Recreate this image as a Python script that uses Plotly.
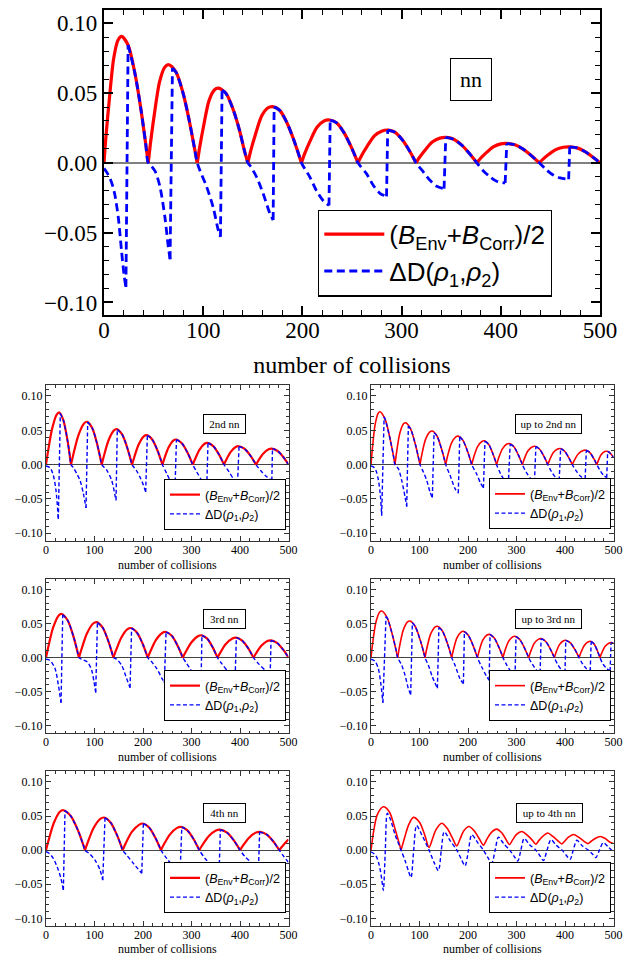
import plotly.graph_objects as go

G = None  # gap marker: separates spline segments (cusps / jumps)

# ---------------- top panel: nn ----------------
NN_RED = [(0,0),(2.1,0.020),(5.3,0.045),(9.8,0.075),(14.2,0.088),(17.8,0.0906),(24.5,0.084),(31.2,0.064),(37.1,0.039),(41.9,0.0145),(44.6,0), G,
          (44.6,0),(47.1,0.0155),(50.8,0.035),(56.0,0.058),(61.2,0.0685),(65.4,0.0703),(72.6,0.065),(79.7,0.050),(86.0,0.030),(91.1,0.011),(94,0), G,
          (94,0),(96.6,0.0118),(100.5,0.0268),(105.8,0.0444),(111.2,0.0522),(115.5,0.0535),(122.9,0.0498),(130.3,0.038),(136.7,0.023),(141.6,0.0086),(145,0), G,
          (145,0),(148,0.0089),(152.5,0.020),(158.8,0.0334),(165,0.0393),(170,0.0403),(177.3,0.0375),(184.5,0.0286),(190.9,0.0173),(196.1,0.0064),(199,0), G,
          (199,0),(202.4,0.0068),(207.6,0.0154),(214.7,0.0255),(221.8,0.030),(227.5,0.0307),(234.6,0.0286),(241.8,0.0218),(248,0.0132),(253.2,0.0049),(256,0), G,
          (256,0),(259.7,0.0052),(265.2,0.0118),(272.8,0.0195),(280.4,0.0229),(286.5,0.0235),(293.5,0.0219),(300.5,0.0167),(306.7,0.0101),(311.7,0.0038),(314.5,0), G,
          (314.5,0),(318.1,0.004),(323.6,0.0091),(331.2,0.0151),(338.7,0.0177),(344.8,0.0182),(352.5,0.0169),(360.3,0.0129),(367.1,0.0078),(372.7,0.0029),(375.8,0), G,
          (375.8,0),(379.4,0.0031),(384.9,0.007),(392.4,0.0115),(400,0.0136),(406,0.0139),(414.2,0.0129),(422.4,0.0099),(429.5,0.006),(435.4,0.0022),(438.7,0), G,
          (438.7,0),(442.3,0.0025),(447.8,0.0058),(455.4,0.0095),(463,0.0112),(469,0.0115),(476.8,0.0107),(484.5,0.0082),(491.3,0.0049),(496.9,0.0018),(500,0)]
NN_BLUE = [(0,-0.004),(3,-0.007),(6,-0.011),(9,-0.017),(11,-0.023),(14.4,-0.039),(17.8,-0.064),(20.5,-0.082),(22.1,-0.089), G,
           (22.1,-0.089),(24.3,0.0845), G,
           (24.3,0.0845),(31.2,0.064),(37.1,0.039),(41.9,0.0145),(44.6,0),(48,-0.0025),(51.5,-0.006),(56.4,-0.017),(61.4,-0.039),(64.8,-0.060),(66.6,-0.069), G,
           (66.6,-0.069),(69,0.068), G,
           (69,0.068),(72.6,0.065),(79.7,0.050),(86,0.030),(91.1,0.011),(94,0),(96.6,-0.0053),(103.4,-0.017),(110,-0.0317),(115.1,-0.048),(117.4,-0.053), G,
           (117.4,-0.053),(119,0.052), G,
           (119,0.052),(122.9,0.0498),(130.3,0.038),(136.7,0.023),(141.6,0.0086),(145,0),(147,-0.0017),(153.7,-0.010),(160.4,-0.022),(167.1,-0.036),(170.5,-0.041), G,
           (170.5,-0.041),(171.5,0.0401), G,
           (171.5,0.0401),(177.3,0.0375),(184.5,0.0286),(190.9,0.0173),(196.1,0.0064),(199,0),(207.4,-0.010),(214,-0.0197),(220.8,-0.027),(226.8,-0.0305), G,
           (226.8,-0.0305),(228,0.0306), G,
           (228,0.0306),(234.6,0.0286),(241.8,0.0218),(248,0.0132),(253.2,0.0049),(256,0),(264.6,-0.0077),(271.4,-0.0161),(278.1,-0.0218),(284.8,-0.024), G,
           (284.8,-0.024),(286,0.0235), G,
           (286,0.0235),(293.5,0.0219),(300.5,0.0167),(306.7,0.0101),(311.7,0.0038),(314.5,0),(321.9,-0.0065),(328.6,-0.0125),(335.4,-0.0168),(342.8,-0.0185), G,
           (342.8,-0.0185),(344.5,0.0182), G,
           (344.5,0.0182),(352.5,0.0169),(360.3,0.0129),(367.1,0.0078),(372.7,0.0029),(375.8,0),(382.5,-0.0058),(389.2,-0.010),(395.9,-0.0132),(404.4,-0.0144), G,
           (404.4,-0.0144),(406,0.0139), G,
           (406,0.0139),(414.2,0.0129),(422.4,0.0099),(429.5,0.006),(435.4,0.0022),(438.7,0),(446.5,-0.0053),(453.2,-0.0089),(459.9,-0.0108),(468.4,-0.0118), G,
           (468.4,-0.0118),(469.5,0.0115), G,
           (469.5,0.0115),(476.8,0.0107),(484.5,0.0082),(491.3,0.0049),(496.9,0.0018),(500,0)]

# ---------------- 2nd nn ----------------
NN2_RED = [(0,0),(4.1,0.019),(12.4,0.0517),(22,0.073),(27.5,0.076),(35.9,0.0646),(44.4,0.035),(49.2,0.0122),(51.6,0), G,
           (51.6,0),(56.6,0.0156),(66.6,0.0424),(78.3,0.060),(85,0.0624),(95.5,0.053),(105.9,0.0287),(111.9,0.010),(114.9,0), G,
           (114.9,0),(119.5,0.0129),(128.8,0.0352),(139.6,0.0496),(145.8,0.0517),(156.9,0.044),(167.9,0.0238),(174.2,0.0083),(177.4,0), G,
           (177.4,0),(182,0.0108),(191,0.0292),(201.6,0.0413),(207.7,0.043),(219,0.0366),(230.3,0.0198),(236.8,0.0069),(240,0), G,
           (240,0),(244.2,0.0092),(252.6,0.0249),(262.4,0.0351),(268,0.0366),(280.1,0.0311),(292.2,0.0168),(299.1,0.0059),(302.6,0), G,
           (302.6,0),(307.2,0.0079),(316.3,0.0216),(326.9,0.0304),(333,0.0317),(344.9,0.0269),(356.8,0.0146),(363.6,0.0051),(367,0), G,
           (367,0),(371.5,0.0067),(380.5,0.0182),(391,0.0257),(397,0.0268),(409.6,0.0228),(422.2,0.0123),(429.4,0.0043),(433,0), G,
           (433,0),(437.9,0.0059),(447.7,0.0159),(459.1,0.0225),(465.6,0.0234),(477.6,0.0199),(489.7,0.0108),(496.6,0.0037),(500,0)]
NN2_BLUE = [(0,-0.002),(8.3,-0.0044),(15.1,-0.0156),(20.6,-0.0376),(25.4,-0.079), G,
            (25.4,-0.079),(29.5,0.0745), G,
            (29.5,0.0745),(35.9,0.0646),(44.4,0.035),(49.2,0.0122),(51.6,0),(56.4,-0.0044),(63.3,-0.013),(70.2,-0.023),(77,-0.042),(82.5,-0.063), G,
            (82.5,-0.063),(86,0.0622), G,
            (86,0.0622),(95.5,0.053),(105.9,0.0287),(111.9,0.010),(114.9,0),(125.2,-0.008),(135.5,-0.023),(142.4,-0.045),(144.4,-0.052), G,
            (144.4,-0.052),(147,0.0512), G,
            (147,0.0512),(156.9,0.044),(167.9,0.0238),(174.2,0.0083),(177.4,0),(186,-0.008),(195,-0.02),(201,-0.03),(205.5,-0.040), G,
            (205.5,-0.040),(209,0.0428), G,
            (209,0.0428),(219,0.0366),(230.3,0.0198),(236.8,0.0069),(240,0),(249,-0.013),(259.4,-0.028),(266,-0.034), G,
            (266,-0.034),(269,0.0365), G,
            (269,0.0365),(280.1,0.0311),(292.2,0.0168),(299.1,0.0059),(302.6,0),(310.9,-0.0107),(321.2,-0.0229),(331.5,-0.032), G,
            (331.5,-0.032),(334,0.0317), G,
            (334,0.0317),(344.9,0.0269),(356.8,0.0146),(363.6,0.0051),(367,0),(377,-0.010),(386,-0.020),(395,-0.027), G,
            (395,-0.027),(398,0.0267), G,
            (398,0.0267),(409.6,0.0228),(422.2,0.0123),(429.4,0.0043),(433,0),(443,-0.009),(454,-0.017),(465.6,-0.023), G,
            (465.6,-0.023),(467,0.0233), G,
            (467,0.0233),(477.6,0.0199),(489.7,0.0108),(496.6,0.0037),(500,0)]

# ---------------- up to 2nd nn ----------------
UP2_RED = [(0,0),(2.8,0.023),(8.4,0.0578),(14.9,0.075),(18.6,0.077),(29.4,0.0655),(40.2,0.0347),(46.4,0.0123),(49.5,0), G,
           (49.5,0),(52.8,0.0183),(59.4,0.0458),(67.1,0.0595),(71.5,0.061),(81.8,0.0519),(92.2,0.0275),(98,0.0098),(101,0), G,
           (101,0),(104.8,0.0147),(112.5,0.0368),(121.4,0.0478),(126.5,0.049),(136.1,0.0417),(145.8,0.0221),(151.3,0.0078),(154,0), G,
           (154,0),(157.9,0.0125),(165.7,0.0311),(174.8,0.0405),(180,0.0415),(189.7,0.0353),(199.4,0.0187),(204.9,0.0066),(207.7,0), G,
           (207.7,0),(211.6,0.0104),(219.5,0.026),(228.7,0.0337),(234,0.0346),(242.8,0.0294),(251.5,0.0156),(256.5,0.0055),(259,0), G,
           (259,0),(263,0.0092),(270.9,0.023),(280.1,0.030),(285.4,0.0307),(294.7,0.0261),(304,0.0138),(309.3,0.0049),(312,0), G,
           (312,0),(315.9,0.008),(323.7,0.0201),(332.8,0.0261),(338,0.0268),(347.3,0.0228),(356.6,0.0121),(361.9,0.0043),(364.5,0), G,
           (364.5,0),(368.3,0.007),(376,0.0176),(384.9,0.0228),(390,0.0234),(398.8,0.0199),(407.5,0.0105),(412.5,0.0037),(415,0), G,
           (415,0),(419.2,0.0063),(427.6,0.0158),(437.4,0.0205),(443,0.021),(450.9,0.0179),(458.8,0.0095),(463.3,0.0034),(465.6,0), G,
           (465.6,0),(468.7,0.0059),(474.8,0.0146),(481.9,0.019),(486,0.0195),(491,0.018),(496,0.0145),(500,0.011)]
UP2_BLUE = [(0,-0.002),(6,-0.004),(11,-0.010),(15.1,-0.022),(19,-0.042),(22,-0.074), G,
            (22,-0.074),(27,0.0695), G,
            (27,0.0695),(29.4,0.0655),(40.2,0.0347),(46.4,0.0123),(49.5,0),(56.4,-0.0059),(63.3,-0.023),(70.2,-0.047),(73.6,-0.061), G,
            (73.6,-0.061),(77,0.0565), G,
            (77,0.0565),(81.8,0.0519),(92.2,0.0275),(98,0.0098),(101,0),(108,-0.0107),(114.9,-0.023),(121.7,-0.040),(126.5,-0.048), G,
            (126.5,-0.048),(130,0.0465), G,
            (130,0.0465),(136.1,0.0417),(145.8,0.0221),(151.3,0.0078),(154,0),(163,-0.0156),(173.3,-0.035),(180,-0.0415), G,
            (180,-0.0415),(183,0.0405), G,
            (183,0.0405),(189.7,0.0353),(199.4,0.0187),(204.9,0.0066),(207.7,0),(218,-0.014),(226,-0.027),(231.8,-0.034), G,
            (231.8,-0.034),(235,0.0342), G,
            (235,0.0342),(242.8,0.0294),(251.5,0.0156),(256.5,0.0055),(259,0),(267,-0.013),(276,-0.024),(283,-0.030), G,
            (283,-0.030),(287,0.030), G,
            (287,0.030),(294.7,0.0261),(304,0.0138),(309.3,0.0049),(312,0),(320,-0.011),(329,-0.020),(337,-0.025), G,
            (337,-0.025),(340,0.0266), G,
            (340,0.0266),(347.3,0.0228),(356.6,0.0121),(361.9,0.0043),(364.5,0),(372,-0.010),(380,-0.018),(388,-0.023), G,
            (388,-0.023),(391,0.0233), G,
            (391,0.0233),(398.8,0.0199),(407.5,0.0105),(412.5,0.0037),(415,0),(423,-0.009),(432,-0.017),(441.5,-0.021), G,
            (441.5,-0.021),(444,0.021), G,
            (444,0.021),(450.9,0.0179),(458.8,0.0095),(463.3,0.0034),(465.6,0),(472,-0.008),(479,-0.015),(486,-0.019), G,
            (486,-0.019),(488,0.0192), G,
            (488,0.0192),(491,0.018),(496,0.0145),(500,0.011)]

# ---------------- 3rd nn ----------------
NN3_RED = [(0,0),(4.8,0.016),(14.5,0.0435),(25.8,0.0614),(32.3,0.064),(44.8,0.0544),(57.3,0.0294),(64.4,0.0102),(68,0), G,
           (68,0),(73.5,0.013),(84.4,0.0354),(97.2,0.050),(104.5,0.052),(116.6,0.0442),(128.7,0.0239),(135.6,0.0083),(139,0), G,
           (139,0),(144.5,0.0109),(155.4,0.0295),(168.1,0.0417),(175.4,0.0434),(187.4,0.0369),(199.5,0.020),(206.4,0.0069),(209.8,0), G,
           (209.8,0),(215.4,0.0094),(226.5,0.0256),(239.6,0.0361),(247,0.0376),(259.3,0.032),(271.5,0.0173),(278.5,0.006),(282,0), G,
           (282,0),(287.9,0.0082),(299.6,0.0222),(313.2,0.0314),(321,0.0327),(332.4,0.0278),(343.8,0.015),(350.3,0.0052),(353.5,0), G,
           (353.5,0),(359.3,0.0073),(370.8,0.0199),(384.3,0.0281),(392,0.0293),(404.5,0.0249),(417.1,0.0135),(424.2,0.0047),(427.8,0), G,
           (427.8,0),(433.2,0.0064),(443.9,0.0173),(456.4,0.0244),(463.5,0.0254),(476.3,0.0216),(489,0.0117),(496.4,0.0041),(500,0)]
NN3_BLUE = [(0,-0.0024),(8.3,-0.004),(18.6,-0.016),(25.4,-0.040),(31,-0.066), G,
            (31,-0.066),(34.5,0.063), G,
            (34.5,0.063),(44.8,0.0544),(57.3,0.0294),(64.4,0.0102),(68,0),(73.6,-0.0024),(85.3,-0.0063),(94.2,-0.0185),(99,-0.0356),(102.5,-0.051), G,
            (102.5,-0.051),(106,0.0515), G,
            (106,0.0515),(116.6,0.0442),(128.7,0.0239),(135.6,0.0083),(139,0),(145.8,-0.0024),(156,-0.0112),(166.4,-0.031),(173.3,-0.044), G,
            (173.3,-0.044),(176.5,0.0433), G,
            (176.5,0.0433),(187.4,0.0369),(199.5,0.020),(206.4,0.0069),(209.8,0),(218,-0.0063),(228.3,-0.016),(238.7,-0.030),(244,-0.037), G,
            (244,-0.037),(247.5,0.0376), G,
            (247.5,0.0376),(259.3,0.032),(271.5,0.0173),(278.5,0.006),(282,0),(290.2,-0.0088),(304,-0.0234),(319.8,-0.033), G,
            (319.8,-0.033),(321.5,0.0327), G,
            (321.5,0.0327),(332.4,0.0278),(343.8,0.015),(350.3,0.0052),(353.5,0),(362.4,-0.0088),(376.2,-0.021),(390,-0.028), G,
            (390,-0.028),(392.5,0.0293), G,
            (392.5,0.0293),(404.5,0.0249),(417.1,0.0135),(424.2,0.0047),(427.8,0),(438,-0.0088),(451.9,-0.0185),(462.2,-0.025), G,
            (462.2,-0.025),(464,0.0254), G,
            (464,0.0254),(476.3,0.0216),(489,0.0117),(496.4,0.0041),(500,0)]

# ---------------- up to 3rd nn ----------------
UP3_RED = [(0,0),(3.3,0.0205),(9.9,0.0512),(17.6,0.0666),(22,0.0683),(33.6,0.058),(45.1,0.0307),(51.7,0.0109),(55,0), G,
           (55,0),(58.8,0.0161),(66.5,0.0403),(75.4,0.0524),(80.5,0.0537),(91.3,0.0456),(102.1,0.0242),(108.3,0.0086),(111.4,0), G,
           (111.4,0),(115.2,0.0138),(122.9,0.0344),(131.9,0.0448),(137,0.0459),(147.3,0.039),(157.6,0.0207),(163.5,0.0073),(166.4,0), G,
           (166.4,0),(170,0.0116),(177.2,0.0289),(185.7,0.0375),(190.5,0.0385),(200.6,0.0327),(210.7,0.0173),(216.5,0.0062),(219.4,0), G,
           (219.4,0),(223.1,0.0102),(230.5,0.0256),(239.1,0.0332),(244,0.0341),(253.8,0.029),(263.6,0.0153),(269.2,0.0055),(272,0), G,
           (272,0),(275.8,0.0094),(283.3,0.0234),(292,0.0304),(297,0.0312),(306.8,0.0265),(316.6,0.014),(322.2,0.005),(325,0), G,
           (325,0),(328.9,0.0083),(336.6,0.0209),(345.6,0.0271),(350.7,0.0278),(360.3,0.0236),(369.8,0.0125),(375.3,0.0044),(378,0), G,
           (378,0),(381.5,0.0076),(388.6,0.0191),(396.9,0.0248),(401.6,0.0254),(411.2,0.0216),(420.8,0.0114),(426.3,0.0041),(429,0), G,
           (429,0),(432.6,0.0072),(439.8,0.0179),(448.2,0.0233),(453,0.0239),(459.7,0.0203),(466.3,0.0108),(470.1,0.0038),(472,0), G,
           (472,0),(475.6,0.0066),(482.8,0.0165),(491.2,0.0215),(496,0.022),(500,0.0213)]
UP3_BLUE = [(0,-0.0024),(8.3,-0.0054),(15.1,-0.016),(20.6,-0.040),(24.5,-0.066), G,
            (24.5,-0.066),(31,0.0603), G,
            (31,0.0603),(33.6,0.058),(45.1,0.0307),(51.7,0.0109),(55,0),(63.3,-0.0112),(70.2,-0.0259),(77,-0.0454),(81.8,-0.054), G,
            (81.8,-0.054),(85.3,0.0512), G,
            (85.3,0.0512),(91.3,0.0456),(102.1,0.0242),(108.3,0.0086),(111.4,0),(118.3,-0.0112),(126.5,-0.028),(136.9,-0.045), G,
            (136.9,-0.045),(140,0.0442), G,
            (140,0.0442),(147.3,0.039),(157.6,0.0207),(163.5,0.0073),(166.4,0),(173.3,-0.0112),(183.6,-0.031),(190.5,-0.038), G,
            (190.5,-0.038),(192.6,0.0383), G,
            (192.6,0.0383),(200.6,0.0327),(210.7,0.0173),(216.5,0.0062),(219.4,0),(228.3,-0.0137),(238.7,-0.028),(243.5,-0.033), G,
            (243.5,-0.033),(245.5,0.034), G,
            (245.5,0.034),(253.8,0.029),(263.6,0.0153),(269.2,0.0055),(272,0),(280,-0.011),(289,-0.021),(297,-0.027), G,
            (297,-0.027),(299,0.031), G,
            (299,0.031),(306.8,0.0265),(316.6,0.014),(322.2,0.005),(325,0),(333,-0.010),(341,-0.018),(348.7,-0.022), G,
            (348.7,-0.022),(350.7,0.0278), G,
            (350.7,0.0278),(360.3,0.0236),(369.8,0.0125),(375.3,0.0044),(378,0),(385,-0.010),(393,-0.018),(400,-0.022), G,
            (400,-0.022),(401.6,0.0254), G,
            (401.6,0.0254),(411.2,0.0216),(420.8,0.0114),(426.3,0.0041),(429,0),(436,-0.009),(444,-0.016),(452,-0.0195), G,
            (452,-0.0195),(454,0.0238), G,
            (454,0.0238),(459.7,0.0203),(466.3,0.0108),(470.1,0.0038),(472,0),(478,-0.009),(486,-0.016),(493,-0.0195), G,
            (493,-0.0195),(495,0.0219), G,
            (495,0.0219),(500,0.0213)]

# ---------------- 4th nn ----------------
NN4_RED = [(0,0),(5.4,0.0146),(16.1,0.0398),(28.6,0.0562),(35.8,0.0585),(51.4,0.0497),(67.1,0.0269),(76,0.0094),(80.5,0), G,
           (80.5,0),(86.4,0.012),(98.1,0.0325),(111.9,0.0459),(119.7,0.0478),(133.1,0.0406),(146.5,0.022),(154.2,0.0076),(158,0), G,
           (158,0),(164.2,0.0098),(176.6,0.0265),(192.5,0.0374),(199.4,0.039),(212.6,0.0332),(225.7,0.0179),(233.2,0.0062),(237,0), G,
           (237,0),(243.2,0.0085),(255.7,0.0231),(270.2,0.0326),(278.5,0.034),(291.6,0.0289),(304.8,0.0156),(312.3,0.0054),(316,0), G,
           (316,0),(322.5,0.0075),(335.4,0.0204),(350.4,0.0288),(359,0.030),(373.4,0.0255),(387.7,0.0138),(395.9,0.0048),(400,0), G,
           (400,0),(406.2,0.0067),(418.7,0.0182),(433.2,0.0257),(441.5,0.0268),(455.3,0.0228),(469.2,0.0123),(477,0.0043),(481,0), G,
           (481,0),(486,0.0045),(493,0.0105),(500,0.0156)]
NN4_BLUE = [(0,-0.0024),(7,-0.005),(15.1,-0.012),(25.4,-0.029),(31,-0.042),(35.8,-0.0585), G,
            (35.8,-0.0585),(39.2,0.058), G,
            (39.2,0.058),(51.4,0.0497),(67.1,0.0269),(76,0.0094),(80.5,0),(90.8,-0.0059),(101.1,-0.0146),(111.4,-0.029),(117,-0.044), G,
            (117,-0.044),(121.7,0.0475), G,
            (121.7,0.0475),(133.1,0.0406),(146.5,0.022),(154.2,0.0076),(158,0),(166.4,-0.0073),(180.2,-0.0195),(197.4,-0.034), G,
            (197.4,-0.034),(200.8,0.0389), G,
            (200.8,0.0389),(212.6,0.0332),(225.7,0.0179),(233.2,0.0062),(237,0),(249,-0.0122),(262.7,-0.0244),(276.5,-0.033), G,
            (276.5,-0.033),(280,0.0339), G,
            (280,0.0339),(291.6,0.0289),(304.8,0.0156),(312.3,0.0054),(316,0),(328,-0.0122),(341.8,-0.022),(357,-0.030), G,
            (357,-0.030),(359.5,0.030), G,
            (359.5,0.030),(373.4,0.0255),(387.7,0.0138),(395.9,0.0048),(400,0),(410.6,-0.0098),(424.4,-0.0185),(438.2,-0.0254), G,
            (438.2,-0.0254),(440.5,0.0268), G,
            (440.5,0.0268),(455.3,0.0228),(469.2,0.0123),(477,0.0043),(481,0),(490,-0.009),(500,-0.018)]

# ---------------- up to 4th nn ----------------
UP4_RED = [(0,0),(6,0.030),(13,0.052),(25.4,0.0635),(38,0.056),(50,0.030),(62,0.0), G,
           (62,0.0),(70,0.020),(77,0.036),(87.3,0.048),(100,0.041),(110,0.024),(119.7,0.0038),(127,0.017),(134,0.030),(145.8,0.0394),(157,0.032),(167,0.019),
           (176.8,0.0062),(184,0.017),(191,0.028),(202,0.0346),(213,0.028),(223,0.017),(231.8,0.0072),(239,0.016),(247,0.025),(259,0.0308),(270,0.025),(278,0.016),
           (285.4,0.0082),(292,0.015),(300,0.023),(311,0.0274),(322,0.022),(332,0.015),(339.8,0.0087),(346,0.014),(354,0.020),(364.5,0.025),(375,0.020),(385,0.014),
           (393.4,0.009),(400,0.0135),(407,0.019),(417.5,0.023),(428,0.019),(438,0.0135),(447,0.0096),(454,0.013),(462,0.017),(472.5,0.020),(483,0.017),(492,0.012),(500,0.0096)]
UP4_BLUE = [(0,-0.0024),(10,-0.008),(17,-0.022),(22,-0.042),(25.4,-0.059),(29.5,0.0),(33.7,0.054),(40,0.045),(50,0.022),(62,0.0),(70,-0.015),(77,-0.030),(82.5,-0.040),
            (88,0.0),(94,0.036),(105,0.022),(119.7,0.0),(130,-0.018),(139,-0.030),(145,0.0),(151,0.027),(163,0.014),(177,0.0),(186,-0.013),(194,-0.023),
            (201,0.0),(207.7,0.0226),(220,0.011),(232,0.0),(241,-0.011),(249,-0.019),(256,0.0),(262.7,0.019),(274,0.009),(286,0.0),(295,-0.009),(302.6,-0.016),
            (309,0.0),(315.7,0.017),(327,0.008),(340,0.0),(349,-0.009),(355.6,-0.0154),(363,0.0),(371,0.0154),(382,0.007),(394,0.0),(403,-0.008),(410.6,-0.0135),
            (417,0.0),(424.4,0.0144),(436,0.006),(448,0.0),(457,-0.006),(463.5,-0.011),(471,0.0),(479,0.011),(490,0.004),(500,-0.0024)]

PANEL_LABELS = ["nn", "2nd nn", "up to 2nd nn", "3rd nn", "up to 3rd nn", "4th nn", "up to 4th nn"]
X_TICKS = [0, 100, 200, 300, 400, 500]
X_TITLE = "number of collisions"
RED_NAME = "(<i>B</i><sub>Env</sub>+<i>B</i><sub>Corr</sub>)/2"
BLUE_NAME = "ΔD(<i>ρ</i><sub>1</sub>,<i>ρ</i><sub>2</sub>)"

PANELS = [(NN_RED, NN_BLUE), (NN2_RED, NN2_BLUE), (UP2_RED, UP2_BLUE), (NN3_RED, NN3_BLUE),
          (UP3_RED, UP3_BLUE), (NN4_RED, NN4_BLUE), (UP4_RED, UP4_BLUE)]


def split(pts):
    xs = [p[0] if p is not None else None for p in pts]
    ys = [p[1] if p is not None else None for p in pts]
    return xs, ys


W, H = 630, 956
# pixel boxes (left, right, top, bottom) of each frame
BOXES = [(104, 600, 10, 315),
         (46, 288.5, 385, 540.5), (371, 613.5, 385, 540.5),
         (46, 288.5, 578.5, 733), (371, 613.5, 578.5, 733),
         (46, 288.5, 771, 925.5), (371, 613.5, 771, 925.5)]
LEG_POS = [(552, 296.5), (286, 530), (611, 529.3), (286, 721), (611, 721), (286, 913.3), (611, 913.3)]
LABEL_POS = [(0.74, 0.772), (0.736, 0.749), (0.731, 0.749), (0.738, 0.74), (0.734, 0.74), (0.738, 0.728), (0.735, 0.728)]
LABEL_W = [36, 37, 61, 37, 61, 37, 61]
RED_W = [3.2, 2.2, 1.6, 2.2, 1.6, 2.2, 1.6]

SERIF = "Liberation Serif"
SANS = "Liberation Sans"

fig = go.Figure()
layout = dict(width=W, height=H, margin=dict(l=0, r=0, t=0, b=0, autoexpand=False), autosize=False,
              paper_bgcolor="white", plot_bgcolor="white", showlegend=True, annotations=[])

for i, (red, blue) in enumerate(PANELS):
    big = (i == 0)
    n = "" if i == 0 else str(i + 1)
    leg = "legend" + n
    rx, ry = split(red)
    bx, by = split(blue)
    fig.add_trace(go.Scatter(x=rx, y=ry, mode="lines", name=RED_NAME, legend=leg,
                             xaxis="x" + n, yaxis="y" + n, connectgaps=False,
                             line=dict(color="#ff0000", width=RED_W[i], shape="spline", smoothing=0.8)))
    fig.add_trace(go.Scatter(x=bx, y=by, mode="lines", name=BLUE_NAME, legend=leg,
                             xaxis="x" + n, yaxis="y" + n, connectgaps=False,
                             line=dict(color="#0000ff", width=2.8 if big else 1.4, shape="spline", smoothing=0.8,
                                       dash="8px,4.5px" if big else "4px,2.5px")))
    l, r, t, b = BOXES[i]
    col = "black" if big else "#333333"
    common = dict(showline=True, linecolor=col, linewidth=2.4 if big else 1, mirror="allticks",
                  ticks="inside", ticklen=9 if big else 5, tickwidth=1.5 if big else 1, tickcolor=col,
                  showgrid=False, automargin=False,
                  tickfont=dict(family=SERIF, size=23 if big else 12, color="black"))
    minor = dict(ticks="inside", ticklen=4.5 if big else 2.5, tickwidth=1.2 if big else 0.8,
                 tickcolor=col, showgrid=False)
    layout["xaxis" + n] = dict(common, domain=[l / W, r / W], anchor="y" + n, range=[0, 500],
                               tickmode="array", tickvals=X_TICKS, zeroline=False,
                               ticklabelstandoff=-7 if big else -2,
                               minor=dict(minor, dtick=20, tick0=0),
                               title=dict(text=X_TITLE, font=dict(family=SERIF, size=24 if big else 12, color="black"),
                                          standoff=14 if big else 4))
    yr = [-0.109, 0.1095] if big else [-0.1105, 0.116]
    layout["yaxis" + n] = dict(common, domain=[1 - b / H, 1 - t / H], anchor="x" + n, range=yr,
                               dtick=0.05, tick0=0, tickformat=".2f",
                               zeroline=True, zerolinecolor="#808080" if big else "#444444",
                               zerolinewidth=1.5 if big else 1,
                               minor=dict(minor, dtick=0.01, tick0=0))
    lx, lyb = LEG_POS[i]
    layout[leg] = dict(x=lx / W, y=1 - lyb / H, xanchor="right", yanchor="bottom", xref="paper", yref="paper",
                       bgcolor="white", bordercolor="black", borderwidth=1 if not big else 1.3,
                       font=dict(family=SANS, size=26 if big else 12.5, color="black"),
                       itemwidth=60 if big else 30, tracegroupgap=0)
    fx, fy = LABEL_POS[i]
    layout["annotations"].append(dict(text=PANEL_LABELS[i], xref="x" + n + " domain", yref="y" + n + " domain",
                                      x=fx, y=fy, xanchor="center", yanchor="middle", showarrow=False,
                                      font=dict(family=SERIF, size=22 if big else 11, color="black"),
                                      bgcolor="white", bordercolor="black", borderwidth=1,
                                      width=LABEL_W[i], height=37 if big else 14, borderpad=2))

fig.update_layout(**layout)
fig.write_html("out.html", config={"responsive": False, "displayModeBar": False},
               post_script="document.body.style.margin='0';document.body.style.overflow='hidden';")
